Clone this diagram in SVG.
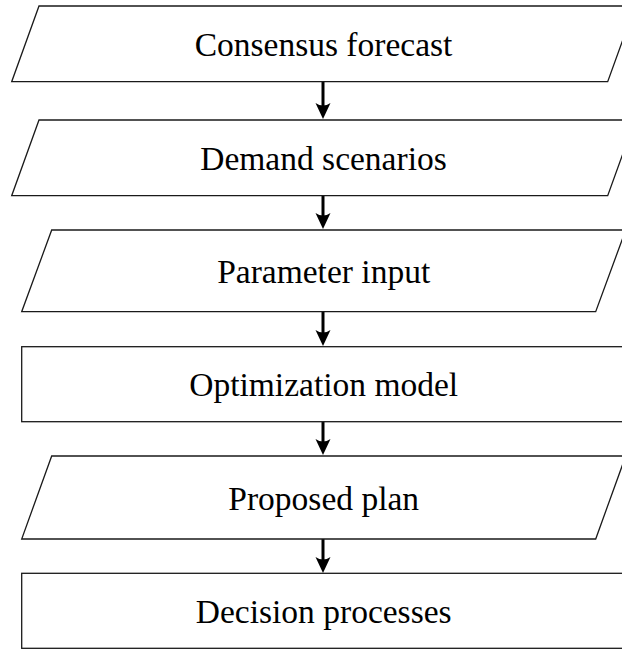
<svg xmlns="http://www.w3.org/2000/svg" width="622" height="649" viewBox="0 0 622 649">
  <style>
    .frame { fill: #ffffff; stroke: #1a1a1a; stroke-width: 1.3; }
    .label { font-family: "Liberation Serif", "Times New Roman", serif; font-size: 33.5px; fill: #000000; text-anchor: middle; dominant-baseline: central; }
    .shaft { stroke: #000000; stroke-width: 3; fill: none; }
    .tip { fill: #000000; stroke: none; }
  </style>
  <defs>
    <!-- downward arrowhead, tip at the origin -->
    <path id="head" class="tip" d="M0,0 L-7.5,-16 Q0,-11 7.5,-16 Z"/>
  </defs>

  <!-- connectors -->
  <g id="connectors">
    <line class="shaft" x1="323" y1="82" x2="323" y2="108"/>
    <use href="#head" x="323" y="119"/>
    <line class="shaft" x1="323" y1="196" x2="323" y2="218"/>
    <use href="#head" x="323" y="229"/>
    <line class="shaft" x1="323" y1="312" x2="323" y2="335"/>
    <use href="#head" x="323" y="346"/>
    <line class="shaft" x1="323" y1="422" x2="323" y2="444"/>
    <use href="#head" x="323" y="455"/>
    <line class="shaft" x1="323" y1="539" x2="323" y2="562"/>
    <use href="#head" x="323" y="573"/>
  </g>

  <g id="consensus-forecast">
    <polygon class="frame" points="39,6 635,6 607.7,81.7 11.7,81.7"/>
    <text class="label" x="323.5" y="44">Consensus forecast</text>
  </g>

  <g id="demand-scenarios">
    <polygon class="frame" points="39,120 635,120 607.7,195.7 11.7,195.7"/>
    <text class="label" x="323.5" y="158">Demand scenarios</text>
  </g>

  <g id="parameter-input">
    <polygon class="frame" points="51.7,230 625.7,230 595.7,311.7 21.7,311.7"/>
    <text class="label" x="323.7" y="271">Parameter input</text>
  </g>

  <g id="optimization-model">
    <rect class="frame" x="21.7" y="346.7" width="604" height="75"/>
    <text class="label" x="323.7" y="384.5">Optimization model</text>
  </g>

  <g id="proposed-plan">
    <polygon class="frame" points="51.7,456 625.7,456 595.7,539 21.7,539"/>
    <text class="label" x="323.7" y="498">Proposed plan</text>
  </g>

  <g id="decision-processes">
    <rect class="frame" x="21.7" y="573.3" width="604" height="75"/>
    <text class="label" x="323.7" y="611.5">Decision processes</text>
  </g>
</svg>
